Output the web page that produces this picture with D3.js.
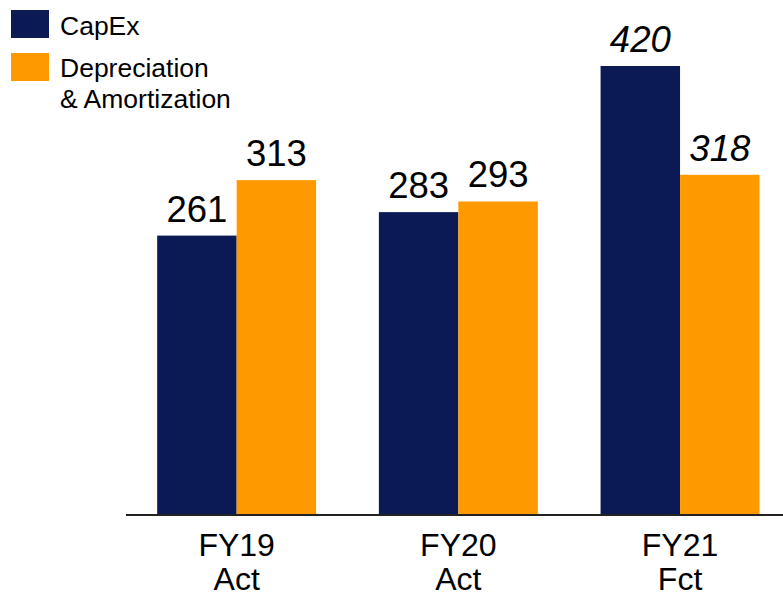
<!DOCTYPE html>
<html><head><meta charset="utf-8">
<script src="https://cdn.jsdelivr.net/npm/d3@7/dist/d3.min.js"></script>
<style>body{margin:0;background:#fff}svg{display:block;font-family:Arial,"Liberation Sans",sans-serif}</style>
</head><body><svg id="c" width="783" height="594"></svg>
<script>
const categories = ["FY19", "FY20", "FY21"];
const subLabels = ["Act", "Act", "Fct"];
const seriesNames = ["CapEx", "Depreciation & Amortization"];
const capex = [261, 283, 420];
const dna = [313, 293, 318];
const italicFlags = [false, false, true];

const colors = ["#0B1A55", "#FF9900"];
const svg = d3.select("#c");
const baseY = 514;
const y = d3.scaleLinear().domain([0, 420]).range([baseY, 66]);
const x0 = d3.scaleBand().domain(categories).range([125.8, 790.9]).paddingInner(0.283).paddingOuter(0.1415);
const x1 = d3.scaleBand().domain([0, 1]).range([0, x0.bandwidth()]);

const rows = categories.map((c, i) => ({c, i, vals: [capex[i], dna[i]]}));
const g = svg.selectAll("g.grp").data(rows).join("g").attr("transform", d => `translate(${x0(d.c)},0)`);
g.selectAll("rect").data(d => d.vals.map((v, k) => ({v, k}))).join("rect")
  .attr("x", d => x1(d.k)).attr("width", x1.bandwidth())
  .attr("y", d => y(d.v)).attr("height", d => baseY - y(d.v))
  .attr("fill", d => colors[d.k]);
g.selectAll("text.val").data(d => d.vals.map((v, k) => ({v, k, it: italicFlags[d.i]}))).join("text")
  .attr("class", "val")
  .attr("x", d => x1(d.k) + x1.bandwidth() / 2)
  .attr("y", d => y(d.v) - 14)
  .attr("text-anchor", "middle")
  .attr("font-size", 36.5)
  .attr("font-style", d => d.it ? "italic" : "normal")
  .attr("fill", "#000")
  .text(d => d.v);

// axis baseline
svg.append("line").attr("x1", 126).attr("x2", 783).attr("y1", baseY + 1).attr("y2", baseY + 1)
  .attr("stroke", "#222").attr("stroke-width", 2);

// category labels
const lab = svg.selectAll("text.cat").data(categories).join("text").attr("class", "cat")
  .attr("text-anchor", "middle").attr("font-size", 32).attr("fill", "#000");
lab.append("tspan").attr("x", d => x0(d) + x0.bandwidth() / 2).attr("y", 556).text(d => d);
lab.append("tspan").attr("x", d => x0(d) + x0.bandwidth() / 2).attr("y", 590).text((d, i) => subLabels[i]);

// legend
const leg = svg.append("g");
leg.append("rect").attr("x", 11).attr("y", 10).attr("width", 38).attr("height", 28).attr("fill", colors[0]);
leg.append("rect").attr("x", 11).attr("y", 53).attr("width", 38).attr("height", 28).attr("fill", colors[1]);
leg.append("text").attr("x", 60).attr("y", 35).attr("font-size", 26.5).text(seriesNames[0]);
const t2 = leg.append("text").attr("font-size", 26.5);
t2.append("tspan").attr("x", 60).attr("y", 77).text("Depreciation");
t2.append("tspan").attr("x", 60).attr("y", 108).text("& Amortization");
</script></body></html>
